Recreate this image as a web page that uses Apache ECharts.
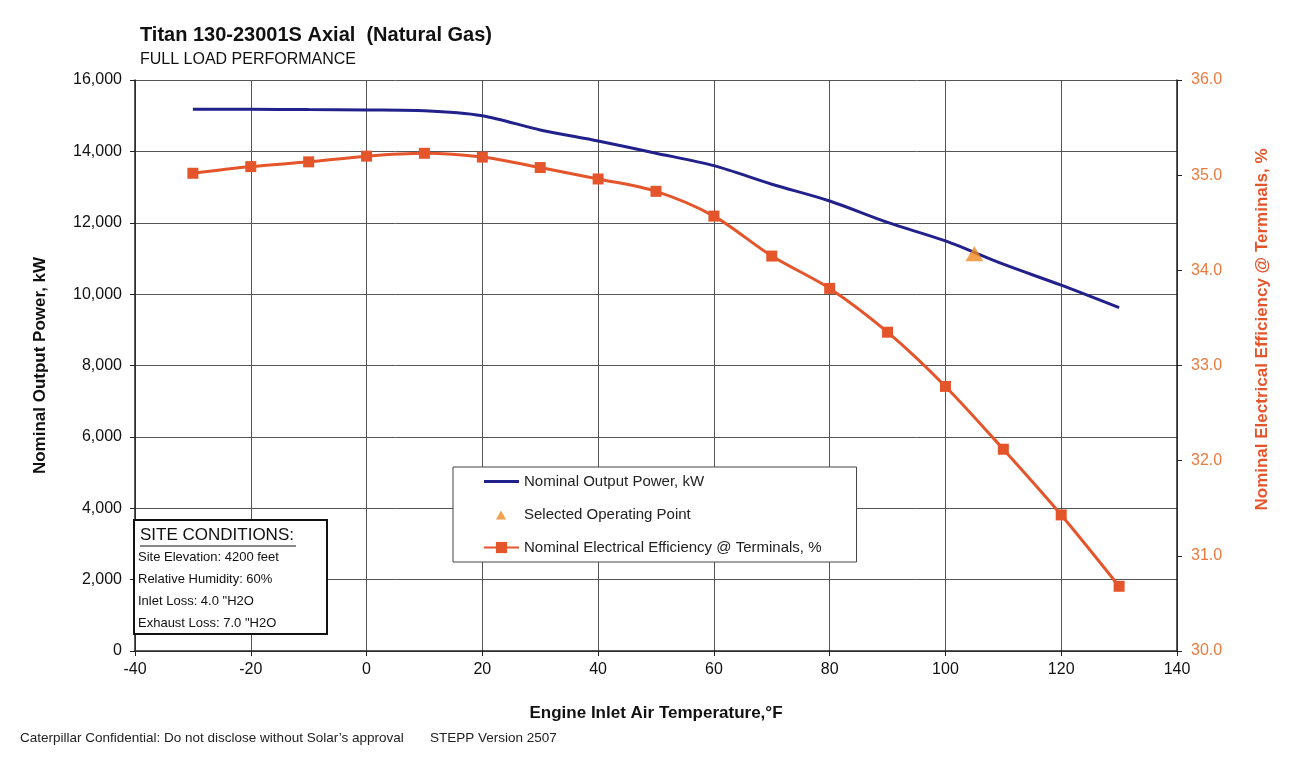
<!DOCTYPE html>
<html>
<head>
<meta charset="utf-8">
<title>Titan 130 Full Load Performance</title>
<script src="https://cdn.jsdelivr.net/npm/echarts@6/dist/echarts.min.js"></script>
<style>
  html, body { margin: 0; padding: 0; background: #fff; }
  #perfChart { width: 1300px; height: 768px; }
</style>
</head>
<body>
<div id="perfChart"></div>
<script>
// engine inlet air temperature, degF
const temps = [-30, -20, -10, 0, 10, 20, 30, 40, 50, 60, 70, 80, 90, 100, 110, 120, 130];
// nominal output power, kW
const power = [15180, 15180, 15170, 15160, 15140, 15000, 14600, 14290, 13950, 13600, 13080, 12610, 12010, 11490, 10840, 10250, 9620];
// nominal electrical efficiency @ terminals, %
const efficiency = [35.02, 35.09, 35.14, 35.20, 35.23, 35.19, 35.08, 34.96, 34.83, 34.57, 34.15, 33.81, 33.35, 32.78, 32.12, 31.43, 30.68];
// selected operating point
const selectedTemp = [105];
const selectedPower = [11130];

const siteConditions = [
  'Site Elevation: 4200 feet',
  'Relative Humidity: 60%',
  'Inlet Loss: 4.0 "H2O',
  'Exhaust Loss: 7.0 "H2O'
];

const FONT = '"Liberation Sans", Arial, sans-serif';
const BLUE = '#22208a';
const ORANGE = '#e5552b';
const AXIS_ORANGE = '#ec7a3c';

function pairs(xs, ys) {
  return xs.map((x, i) => [x, ys[i]]);
}

// site conditions box, bottom left of plot
let siteGraphic = [
  {
    type: 'rect',
    shape: { x: 134, y: 520, width: 193, height: 114 },
    style: { fill: '#fff', stroke: '#111', lineWidth: 2 },
    z: 100
  },
  {
    type: 'text',
    x: 140, y: 527,
    style: { text: 'SITE CONDITIONS:', font: '17px ' + FONT, fill: '#111' },
    z: 101
  },
  {
    type: 'line',
    shape: { x1: 140, y1: 546, x2: 296, y2: 546 },
    style: { stroke: '#111', lineWidth: 1 },
    z: 101
  }
];
siteConditions.forEach((line, i) => {
  siteGraphic.push({
    type: 'text',
    x: 138, y: 551 + i * 22,
    style: { text: line, font: '13px ' + FONT, fill: '#111' },
    z: 101
  });
});

let option = {
  backgroundColor: '#fff',
  animation: false,
  textStyle: { fontFamily: FONT },
  title: {
    text: 'Titan 130-23001S Axial  (Natural Gas)',
    subtext: 'FULL LOAD PERFORMANCE',
    left: 135,
    top: 20,
    itemGap: 7,
    textStyle: { fontSize: 20, fontWeight: 'bold', color: '#111', fontFamily: FONT },
    subtextStyle: { fontSize: 16, color: '#111', fontFamily: FONT }
  },
  legend: {
    orient: 'vertical',
    left: 453,
    top: 467,
    padding: [7, 35, 7, 30],
    itemGap: 18,
    itemWidth: 35,
    itemHeight: 14,
    borderColor: '#444',
    borderWidth: 1,
    backgroundColor: '#fff',
    textStyle: { fontSize: 15, color: '#222', fontFamily: FONT },
    data: [
      { name: 'Nominal Output Power, kW', icon: 'path://M0,0 L35,0 L35,3 L0,3 Z' },
      { name: 'Selected Operating Point', icon: 'path://M0,0 L0,0 M17,3 L22,12 L12,12 Z M35,14 L35,14' },
      'Nominal Electrical Efficiency @ Terminals, %'
    ]
  },
  grid: {
    left: 135,
    right: 123,
    top: 80,
    bottom: 117
  },
  xAxis: {
    type: 'value',
    min: -40,
    max: 140,
    interval: 20,
    name: 'Engine Inlet Air Temperature,°F',
    nameLocation: 'middle',
    nameGap: 54,
    nameTextStyle: { fontSize: 17, fontWeight: 'bold', color: '#111' },
    axisLine: { onZero: false, lineStyle: { color: '#222', width: 1.5 } },
    axisTick: { length: 5, lineStyle: { color: '#222' } },
    axisLabel: { fontSize: 16, color: '#111', margin: 11 },
    splitLine: { show: true, lineStyle: { color: '#555', width: 1 } }
  },
  yAxis: [
    {
      type: 'value',
      min: 0,
      max: 16000,
      interval: 2000,
      name: 'Nominal Output Power, kW',
      nameLocation: 'middle',
      nameGap: 86,
      nameTextStyle: { fontSize: 17, fontWeight: 'bold', color: '#111' },
      axisLine: { show: true, onZero: false, lineStyle: { color: '#222', width: 1.5 } },
      axisTick: { show: true, length: 5, lineStyle: { color: '#222' } },
      axisLabel: {
        fontSize: 16, color: '#111', margin: 13,
        formatter: v => v.toLocaleString('en-US')
      },
      splitLine: { show: true, lineStyle: { color: '#555', width: 1 } }
    },
    {
      type: 'value',
      position: 'right',
      min: 30,
      max: 36,
      interval: 1,
      name: 'Nominal Electrical Efficiency @ Terminals, %',
      nameLocation: 'middle',
      nameGap: 77,
      nameTextStyle: {
        fontSize: 17, fontWeight: 'bold', color: ORANGE,
        padding: [0, 0, 0, 72]
      },
      axisLine: { show: true, onZero: false, lineStyle: { color: '#222', width: 1.5 } },
      axisTick: { show: true, length: 5, lineStyle: { color: '#222' } },
      axisLabel: {
        fontSize: 16, color: AXIS_ORANGE, margin: 14,
        formatter: v => v.toFixed(1)
      },
      splitLine: { show: false }
    }
  ],
  series: [
    {
      name: 'Nominal Output Power, kW',
      type: 'line',
      yAxisIndex: 0,
      smooth: 0.3,
      symbol: 'none',
      lineStyle: { color: BLUE, width: 3 },
      itemStyle: { color: BLUE },
      data: pairs(temps, power),
      z: 3
    },
    {
      name: 'Selected Operating Point',
      type: 'scatter',
      yAxisIndex: 0,
      symbol: 'triangle',
      symbolSize: [18, 15],
      itemStyle: { color: '#f08a22' },
      data: pairs(selectedTemp, selectedPower),
      z: 5
    },
    {
      name: 'Nominal Electrical Efficiency @ Terminals, %',
      type: 'line',
      yAxisIndex: 1,
      smooth: 0.3,
      symbol: 'rect',
      symbolSize: 11,
      lineStyle: { color: ORANGE, width: 3 },
      itemStyle: { color: ORANGE },
      data: pairs(temps, efficiency),
      z: 4
    }
  ],
  graphic: siteGraphic.concat([
    {
      type: 'text',
      x: 20, y: 731,
      style: {
        text: 'Caterpillar Confidential: Do not disclose without Solar\u2019s approval',
        font: '13.5px ' + FONT,
        fill: '#222'
      }
    },
    {
      type: 'text',
      x: 430, y: 731,
      style: { text: 'STEPP Version 2507', font: '13.5px ' + FONT, fill: '#222' }
    }
  ])
};

let myChart = echarts.init(document.getElementById('perfChart'));
myChart.setOption(option);
</script>
</body>
</html>
